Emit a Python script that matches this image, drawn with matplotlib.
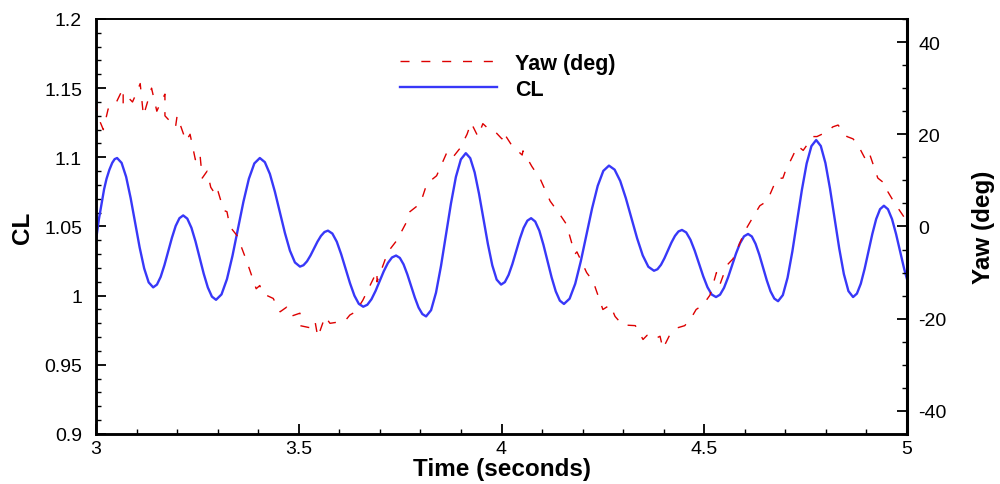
import numpy as np
import matplotlib
matplotlib.use("Agg")
from matplotlib import pyplot as plt
from matplotlib.ticker import MultipleLocator, FuncFormatter

plt.rcParams['font.family'] = ['Liberation Sans', 'DejaVu Sans']
plt.rcParams['axes.unicode_minus'] = False

# CL (left axis)
cl_time = [
    3.000, 3.007, 3.014, 3.020, 3.026, 3.033, 3.040, 3.046,
    3.052, 3.0631, 3.0743, 3.0854, 3.0965, 3.1076, 3.1188, 3.1299,
    3.141, 3.1503, 3.1595, 3.1688, 3.178, 3.1873, 3.1965, 3.2058,
    3.215, 3.2251, 3.2353, 3.2454, 3.2555, 3.2656, 3.2758, 3.2859,
    3.296, 3.3095, 3.323, 3.3365, 3.350, 3.3635, 3.377, 3.3905,
    3.404, 3.4164, 3.4288, 3.4411, 3.4535, 3.4659, 3.4783, 3.4906,
    3.503, 3.5116, 3.5203, 3.5289, 3.5375, 3.5461, 3.5548, 3.5634,
    3.572, 3.5829, 3.5938, 3.6046, 3.6155, 3.6264, 3.6373, 3.6481,
    3.659, 3.6691, 3.6793, 3.6894, 3.6995, 3.7096, 3.7198, 3.7299,
    3.740, 3.7493, 3.7585, 3.7678, 3.777, 3.7863, 3.7955, 3.8048,
    3.814, 3.8263, 3.8385, 3.8508, 3.863, 3.8753, 3.8875, 3.8998,
    3.912, 3.9229, 3.9338, 3.9446, 3.9555, 3.9664, 3.9773, 3.9881,
    3.999, 4.0083, 4.0175, 4.0268, 4.036, 4.0453, 4.0545, 4.0638,
    4.073, 4.0831, 4.0933, 4.1034, 4.1135, 4.1236, 4.1338, 4.1439,
    4.154, 4.1679, 4.1818, 4.1956, 4.2095, 4.2234, 4.2373, 4.2511,
    4.265, 4.2789, 4.2928, 4.3066, 4.3205, 4.3344, 4.3483, 4.3621,
    4.376, 4.3846, 4.3933, 4.4019, 4.4105, 4.4191, 4.4278, 4.4364,
    4.445, 4.4555, 4.466, 4.4765, 4.487, 4.4975, 4.508, 4.5185,
    4.529, 4.5389, 4.5488, 4.5586, 4.5685, 4.5784, 4.5883, 4.5981,
    4.608, 4.6173, 4.6265, 4.6358, 4.645, 4.6543, 4.6635, 4.6728,
    4.682, 4.6938, 4.7055, 4.7173, 4.729, 4.7408, 4.7525, 4.7643,
    4.776, 4.7874, 4.7988, 4.8101, 4.8215, 4.8329, 4.8443, 4.8556,
    4.867, 4.8765, 4.886, 4.8955, 4.905, 4.9145, 4.924, 4.9335,
    4.943, 4.953, 4.963, 4.973, 4.983, 4.993, 5.000]
cl_value = [
    1.0400, 1.0550, 1.0670, 1.0770, 1.0845, 1.0910, 1.0960, 1.0987,
    1.0995, 1.0960, 1.0859, 1.0706, 1.0528, 1.0349, 1.0197, 1.0096,
    1.0060, 1.0080, 1.0136, 1.0221, 1.0320, 1.0419, 1.0504, 1.0560,
    1.0580, 1.0557, 1.0491, 1.0392, 1.0275, 1.0159, 1.0059, 0.9993,
    0.9970, 1.0009, 1.0120, 1.0287, 1.0483, 1.0678, 1.0845, 1.0956,
    1.0995, 1.0965, 1.0880, 1.0752, 1.0603, 1.0453, 1.0325, 1.0240,
    1.0210, 1.0220, 1.0248, 1.0290, 1.0340, 1.0390, 1.0432, 1.0460,
    1.0470, 1.0449, 1.0390, 1.0300, 1.0195, 1.0090, 1.0000, 0.9941,
    0.9920, 0.9934, 0.9974, 1.0034, 1.0105, 1.0176, 1.0236, 1.0276,
    1.0290, 1.0273, 1.0226, 1.0154, 1.0070, 0.9986, 0.9914, 0.9867,
    0.9850, 0.9895, 1.0022, 1.0215, 1.0440, 1.0665, 1.0858, 1.0985,
    1.1030, 1.0994, 1.0891, 1.0736, 1.0555, 1.0374, 1.0219, 1.0116,
    1.0080, 1.0098, 1.0150, 1.0228, 1.0320, 1.0412, 1.0490, 1.0542,
    1.0560, 1.0536, 1.0470, 1.0368, 1.0250, 1.0132, 1.0031, 0.9964,
    0.9940, 0.9978, 1.0086, 1.0249, 1.0440, 1.0631, 1.0794, 1.0902,
    1.0940, 1.0911, 1.0829, 1.0705, 1.0560, 1.0415, 1.0291, 1.0209,
    1.0180, 1.0191, 1.0223, 1.0271, 1.0328, 1.0384, 1.0432, 1.0464,
    1.0475, 1.0457, 1.0404, 1.0325, 1.0233, 1.0140, 1.0061, 1.0008,
    0.9990, 1.0007, 1.0057, 1.0131, 1.0218, 1.0305, 1.0379, 1.0429,
    1.0446, 1.0428, 1.0375, 1.0296, 1.0203, 1.0110, 1.0031, 0.9979,
    0.9960, 1.0004, 1.0130, 1.0320, 1.0543, 1.0765, 1.0955, 1.1081,
    1.1125, 1.1082, 1.0959, 1.0774, 1.0558, 1.0341, 1.0156, 1.0033,
    0.9990, 1.0015, 1.0086, 1.0194, 1.0320, 1.0446, 1.0554, 1.0625,
    1.0650, 1.0625, 1.0554, 1.0446, 1.0320, 1.0194, 1.0120]

# Yaw (right axis): main trend points
yaw_time = [3.000, 3.067, 3.109, 3.170, 3.200, 3.232, 3.256, 3.274, 3.301, 3.323,
            3.348, 3.372, 3.404, 3.437, 3.470, 3.503, 3.540, 3.577, 3.626, 3.658,
            3.693, 3.742, 3.774, 3.816, 3.866, 3.915, 3.954, 4.004, 4.053, 4.095,
            4.144, 4.186, 4.226, 4.268, 4.309, 4.359, 4.391, 4.433, 4.472, 4.514,
            4.556, 4.596, 4.637, 4.679, 4.719, 4.768, 4.817, 4.867, 4.909, 4.951,
            4.990, 5.000]
yaw_deg = [27, 30, 31, 28.7, 24, 20, 16, 12, 7.6, 3.2,
           -2, -7.6, -12.8, -15.6, -17.5, -18.8, -20.5, -21, -19.2, -16,
           -9.7, -3, 3.2, 9.3, 16.2, 20, 22.3, 20.5, 16.4, 10.4,
           2.6, -5.5, -11.9, -17, -21.4, -23.6, -23.8, -22, -19.2, -14.9,
           -8.4, -1.9, 4.5, 10.4, 15.4, 19.5, 21.6, 19, 15.4, 8.9,
           2.4, 1.0]
# Yaw: the jittery samples seen along the trace
jitter_time = [3.004, 3.018, 3.030, 3.045, 3.067, 3.079, 3.090, 3.100, 3.117, 3.137,
               3.150, 3.160, 3.170, 3.186, 3.196, 3.222, 3.245, 3.262, 3.283, 3.298,
               3.315, 3.330, 3.363, 3.395, 3.410, 3.454, 3.480, 3.503, 3.530, 3.547,
               3.565, 3.614, 3.640, 3.693, 3.720, 3.769, 3.800, 3.840, 3.880, 3.898,
               3.925, 3.942, 3.970, 3.985, 4.001, 4.026, 4.051, 4.075, 4.120, 4.160,
               4.181, 4.210, 4.250, 4.280, 4.300, 4.330, 4.349, 4.375, 4.398, 4.415,
               4.452, 4.480, 4.497, 4.530, 4.539, 4.571, 4.600, 4.620, 4.655, 4.694,
               4.700, 4.730, 4.744, 4.778, 4.790, 4.803, 4.830, 4.852, 4.880, 4.901,
               4.928, 4.953, 4.970]
jitter_deg = [24, 21, 25.5, 26, 26.5, 28, 27, 29, 24, 30,
              25, 27, 24, 22.5, 21.5, 18.5, 14.5, 10.5, 8.5, 6.5,
              3.5, 0, -5.5, -13.5, -14.5, -18.5, -19.5, -21.5, -22, -24,
              -19.5, -20.5, -18.5, -12, -5.5, 1.5, 5, 11, 15, 17,
              22.5, 19.5, 21, 20.5, 19, 17.5, 15.5, 13, 5.5, 0.5,
              -6, -10, -18, -19.5, -21.5, -21.5, -24.5, -24.5, -26.5, -23.5,
              -21.5, -18, -17, -10, -12.5, -7, -1, 2, 5.5, 10.5,
              12, 17.5, 16.5, 19.5, 20, 20.5, 22, 19.5, 17.5, 14,
              10.5, 7.5, 5]

t_all = np.array(yaw_time + jitter_time)
y_all = np.array(yaw_deg + jitter_deg)
order = np.argsort(t_all, kind='stable')
t_all = t_all[order]
y_all = y_all[order]

fig = plt.figure(figsize=(10, 4.85), dpi=100)
ax = fig.add_axes([0.096, 0.1031, 0.811, 0.8557])
ax2 = ax.twinx()

cl_line, = ax.plot(cl_time, cl_value, color='#3838f8', lw=1.7, label='CL')
yaw_line, = ax2.plot(t_all, y_all, color='#dd0000', lw=1.0, dashes=(6.5, 8.5), label='Yaw (deg)')

ax.set_xlim(3, 5)
ax.set_ylim(0.9, 1.2)
ax2.set_ylim(-45, 45)

ax.xaxis.set_major_locator(MultipleLocator(0.5))
ax.xaxis.set_minor_locator(MultipleLocator(0.1))
ax.yaxis.set_major_locator(MultipleLocator(0.05))
ax.yaxis.set_minor_locator(MultipleLocator(0.01))
ax2.yaxis.set_major_locator(MultipleLocator(20))
ax2.yaxis.set_minor_locator(MultipleLocator(5))
fmt = FuncFormatter(lambda v, p: '%g' % round(v, 4))
ax.xaxis.set_major_formatter(fmt)
ax.yaxis.set_major_formatter(fmt)
ax2.yaxis.set_major_formatter(fmt)

ax.tick_params(axis='both', which='major', direction='in', length=7, width=1.3, labelsize=14)
ax.tick_params(axis='both', which='minor', direction='in', length=3.8, width=1.0)
ax.tick_params(axis='y', which='major', pad=10)
ax.tick_params(axis='x', which='major', pad=4)
ax.tick_params(top=False, right=False, which='both')
ax2.tick_params(axis='y', which='major', direction='in', length=7, width=1.3, labelsize=14, pad=8)
ax2.tick_params(axis='y', which='minor', direction='in', length=3.8, width=1.0)

for a in (ax, ax2):
    for s in a.spines.values():
        s.set_linewidth(1.8)
    a.spines['top'].set_linewidth(1.2)
ax2.spines['right'].set_linewidth(2.2)

ax.set_xlabel('Time (seconds)', fontsize=17.5, fontweight='bold')
ax.set_ylabel('CL', fontsize=17.5, fontweight='bold')
ax2.set_ylabel('Yaw (deg)', fontsize=17.5, fontweight='bold')
ax.xaxis.set_label_coords(0.501, -0.056)
ax.yaxis.set_label_coords(-0.076, 0.5)
ax2.yaxis.set_label_coords(1.080, 0.5)

leg = ax2.legend(handles=[yaw_line, cl_line], loc='upper left',
                 bbox_to_anchor=(0.3748, 0.918), frameon=False,
                 prop={'weight': 'bold', 'size': 15.5},
                 handlelength=4.5, handletextpad=0.84, labelspacing=0.22,
                 borderpad=0, borderaxespad=0)

fig.savefig('out.png', dpi=100)
